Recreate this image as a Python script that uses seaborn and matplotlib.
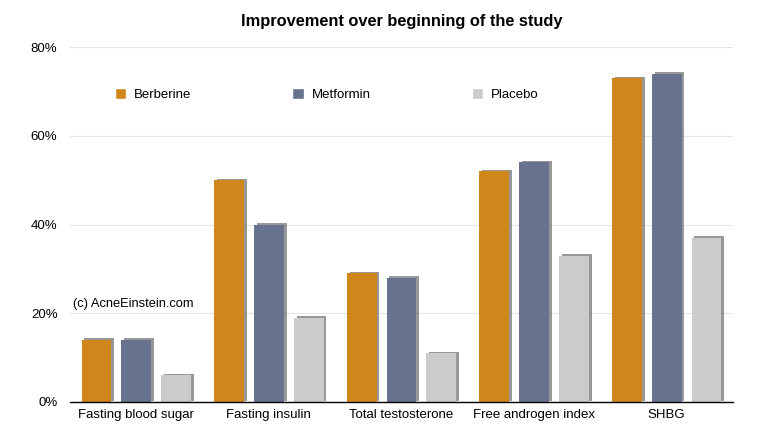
import pandas as pd
import seaborn as sns
import matplotlib.pyplot as plt
import matplotlib.patheffects as pe
from matplotlib.ticker import PercentFormatter
from matplotlib.patches import Patch

# data
measures = ["Fasting blood sugar", "Fasting insulin", "Total testosterone",
            "Free androgen index", "SHBG"]
berberine = [14, 50, 29, 52, 73]
metformin = [14, 40, 28, 54, 74]
placebo = [6, 19, 11, 33, 37]
groups = ["Berberine", "Metformin", "Placebo"]
colors = ["#D0861A", "#66728E", "#CBCBC9"]

df = pd.DataFrame({
    "measure": measures * 3,
    "group": [g for g in groups for _ in measures],
    "value": berberine + metformin + placebo,
})

sns.set_style("white")
plt.rcParams["font.family"] = ["Liberation Sans", "DejaVu Sans"]
plt.rcParams["text.color"] = "black"
plt.rcParams["xtick.color"] = "black"
plt.rcParams["ytick.color"] = "black"

fig = plt.figure(figsize=(7.58, 4.36), dpi=100)
ax = fig.add_axes([0.0923, 0.078, 0.8747, 0.814])

sns.barplot(data=df, x="measure", y="value", hue="group", palette=colors,
            width=0.9, gap=0.25, saturation=1, legend=False, ax=ax)

# drop shadow to the upper right, like the original
shadow = [pe.SimplePatchShadow(offset=(2, 1), shadow_rgbFace="#444444", alpha=0.55),
          pe.Normal()]
for bar in ax.patches:
    bar.set_path_effects(shadow)
    bar.set_linewidth(0)

ax.set_ylim(0, 80)
ax.set_xlim(-0.5, 4.5)
ax.set_yticks([0, 20, 40, 60, 80])
ax.yaxis.set_major_formatter(PercentFormatter(decimals=0))
ax.grid(axis="y", color="#E6E6E6", linewidth=0.8)
ax.set_axisbelow(True)
for side in ["left", "right", "top"]:
    ax.spines[side].set_visible(False)
ax.spines["bottom"].set_color("black")
ax.spines["bottom"].set_linewidth(1)
ax.tick_params(axis="both", length=0, labelsize=9.5, labelcolor="black", pad=5)
ax.tick_params(axis="y", pad=9)
ax.set_xlabel("")
ax.set_ylabel("")

ax.set_title("Improvement over beginning of the study", fontsize=11.8,
             fontweight="bold", pad=15, color="black")

handles = [Patch(facecolor=c, label=g) for g, c in zip(groups, colors)]
ax.legend(handles=handles, ncol=3, loc="upper left", bbox_to_anchor=(0.05, 0.918),
          frameon=False, fontsize=9.5, handlelength=0.85, handleheight=0.85,
          handletextpad=0.6, columnspacing=7.65, labelcolor="black")

ax.text(0.005, 0.275, "(c) AcneEinstein.com", transform=ax.transAxes,
        fontsize=9.3, ha="left", va="center", color="black")

plt.savefig("out.png", dpi=100)
